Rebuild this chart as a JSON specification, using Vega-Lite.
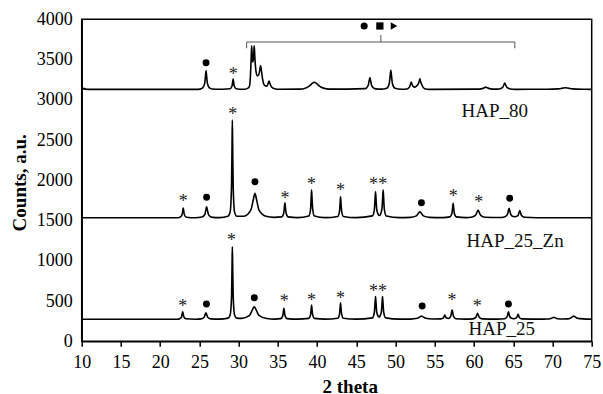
{
"$schema": "https://vega.github.io/schema/vega-lite/v6.json",
"width": 510,
"height": 322,
"autosize": {"type": "none"},
"padding": {"left": 81.7, "top": 19.3, "right": 11.3, "bottom": 52.7},
"background": "white",
"config": {
  "font": "Liberation Serif",
  "view": {"stroke": "#000", "strokeWidth": 1.5},
  "axis": {"domainColor": "#000", "domainWidth": 1.5, "tickColor": "#000", "tickWidth": 1.5, "labelColor": "#000", "titleColor": "#000", "grid": false, "labelFont": "Liberation Serif", "titleFont": "Liberation Serif", "labelFontSize": 18, "titleFontSize": 19, "titleFontWeight": "bold"}
},
"datasets": {
  "lines": [
    {"s":"HAP_80","x":10,"y":3145},{"s":"HAP_80","x":10.5,"y":3133},{"s":"HAP_80","x":11,"y":3130},{"s":"HAP_80","x":24.8,"y":3130},
    {"s":"HAP_80","x":25.37,"y":3144},{"s":"HAP_80","x":25.67,"y":3201},{"s":"HAP_80","x":25.78,"y":3299},{"s":"HAP_80","x":25.85,"y":3360},{"s":"HAP_80","x":25.92,"y":3299},{"s":"HAP_80","x":26.03,"y":3201},{"s":"HAP_80","x":26.33,"y":3144},{"s":"HAP_80","x":27,"y":3131},
    {"s":"HAP_80","x":28.9,"y":3138},{"s":"HAP_80","x":29.15,"y":3169},{"s":"HAP_80","x":29.24,"y":3223},{"s":"HAP_80","x":29.3,"y":3257},{"s":"HAP_80","x":29.36,"y":3223},{"s":"HAP_80","x":29.45,"y":3169},{"s":"HAP_80","x":29.7,"y":3138},{"s":"HAP_80","x":30.5,"y":3131},
    {"s":"HAP_80","x":30.8,"y":3132},{"s":"HAP_80","x":31.2,"y":3145},{"s":"HAP_80","x":31.4,"y":3175},{"s":"HAP_80","x":31.52,"y":3330},{"s":"HAP_80","x":31.6,"y":3520},{"s":"HAP_80","x":31.66,"y":3670},{"s":"HAP_80","x":31.73,"y":3530},{"s":"HAP_80","x":31.8,"y":3470},{"s":"HAP_80","x":31.87,"y":3500},{"s":"HAP_80","x":31.93,"y":3580},{"s":"HAP_80","x":31.99,"y":3670},{"s":"HAP_80","x":32.06,"y":3540},{"s":"HAP_80","x":32.17,"y":3390},{"s":"HAP_80","x":32.35,"y":3300},{"s":"HAP_80","x":32.55,"y":3310},{"s":"HAP_80","x":32.68,"y":3360},{"s":"HAP_80","x":32.8,"y":3425},{"s":"HAP_80","x":32.9,"y":3370},{"s":"HAP_80","x":33.05,"y":3260},{"s":"HAP_80","x":33.3,"y":3180},{"s":"HAP_80","x":33.6,"y":3170},{"s":"HAP_80","x":33.75,"y":3200},{"s":"HAP_80","x":33.88,"y":3234},{"s":"HAP_80","x":34.0,"y":3200},{"s":"HAP_80","x":34.2,"y":3160},{"s":"HAP_80","x":34.6,"y":3138},{"s":"HAP_80","x":35.2,"y":3131},
    {"s":"HAP_80","x":37.8,"y":3132},{"s":"HAP_80","x":38.5,"y":3145},{"s":"HAP_80","x":39.0,"y":3170},{"s":"HAP_80","x":39.35,"y":3200},{"s":"HAP_80","x":39.65,"y":3218},{"s":"HAP_80","x":39.95,"y":3200},{"s":"HAP_80","x":40.3,"y":3170},{"s":"HAP_80","x":40.8,"y":3145},{"s":"HAP_80","x":41.6,"y":3132},
    {"s":"HAP_80","x":46.13,"y":3139},{"s":"HAP_80","x":46.5,"y":3176},{"s":"HAP_80","x":46.64,"y":3238},{"s":"HAP_80","x":46.73,"y":3277},{"s":"HAP_80","x":46.82,"y":3238},{"s":"HAP_80","x":46.96,"y":3176},{"s":"HAP_80","x":47.33,"y":3139},{"s":"HAP_80","x":48.2,"y":3132},
    {"s":"HAP_80","x":48.88,"y":3144},{"s":"HAP_80","x":49.2,"y":3203},{"s":"HAP_80","x":49.32,"y":3303},{"s":"HAP_80","x":49.4,"y":3365},{"s":"HAP_80","x":49.48,"y":3303},{"s":"HAP_80","x":49.6,"y":3203},{"s":"HAP_80","x":49.92,"y":3144},{"s":"HAP_80","x":50.8,"y":3131},
    {"s":"HAP_80","x":51.45,"y":3135},{"s":"HAP_80","x":51.77,"y":3158},{"s":"HAP_80","x":51.91,"y":3196},{"s":"HAP_80","x":52.0,"y":3220},{"s":"HAP_80","x":52.09,"y":3196},{"s":"HAP_80","x":52.25,"y":3165},{"s":"HAP_80","x":52.45,"y":3158},{"s":"HAP_80","x":52.65,"y":3170},{"s":"HAP_80","x":52.88,"y":3195},{"s":"HAP_80","x":53.01,"y":3228},{"s":"HAP_80","x":53.1,"y":3260},{"s":"HAP_80","x":53.19,"y":3228},{"s":"HAP_80","x":53.33,"y":3190},{"s":"HAP_80","x":53.7,"y":3138},{"s":"HAP_80","x":54.3,"y":3130},
    {"s":"HAP_80","x":60.3,"y":3132},{"s":"HAP_80","x":61.05,"y":3139},{"s":"HAP_80","x":61.32,"y":3151},{"s":"HAP_80","x":61.5,"y":3158},{"s":"HAP_80","x":61.68,"y":3151},{"s":"HAP_80","x":61.95,"y":3139},{"s":"HAP_80","x":62.7,"y":3132},
    {"s":"HAP_80","x":63.2,"y":3135},{"s":"HAP_80","x":63.65,"y":3154},{"s":"HAP_80","x":63.81,"y":3187},{"s":"HAP_80","x":63.92,"y":3208},{"s":"HAP_80","x":64.03,"y":3187},{"s":"HAP_80","x":64.19,"y":3154},{"s":"HAP_80","x":64.64,"y":3135},{"s":"HAP_80","x":65.3,"y":3130},
    {"s":"HAP_80","x":69.3,"y":3131},{"s":"HAP_80","x":70.75,"y":3136},{"s":"HAP_80","x":71.3,"y":3145},{"s":"HAP_80","x":71.65,"y":3150},{"s":"HAP_80","x":72.0,"y":3145},{"s":"HAP_80","x":72.55,"y":3136},{"s":"HAP_80","x":74.0,"y":3131},{"s":"HAP_80","x":75,"y":3130},

    {"s":"Zn","x":10,"y":1535},{"s":"Zn","x":22.3,"y":1535},
    {"s":"Zn","x":22.54,"y":1542},{"s":"Zn","x":22.79,"y":1572},{"s":"Zn","x":22.88,"y":1623},{"s":"Zn","x":22.94,"y":1655},{"s":"Zn","x":23.0,"y":1623},{"s":"Zn","x":23.09,"y":1572},{"s":"Zn","x":23.34,"y":1542},{"s":"Zn","x":24.5,"y":1535},
    {"s":"Zn","x":25.32,"y":1543},{"s":"Zn","x":25.7,"y":1577},{"s":"Zn","x":25.83,"y":1636},{"s":"Zn","x":25.92,"y":1672},{"s":"Zn","x":26.01,"y":1636},{"s":"Zn","x":26.15,"y":1577},{"s":"Zn","x":26.52,"y":1543},{"s":"Zn","x":27.6,"y":1536},
    {"s":"Zn","x":28.64,"y":1554},{"s":"Zn","x":28.92,"y":1608},{"s":"Zn","x":29.09,"y":1911},{"s":"Zn","x":29.16,"y":2427},{"s":"Zn","x":29.2,"y":2749},{"s":"Zn","x":29.24,"y":2427},{"s":"Zn","x":29.31,"y":1911},{"s":"Zn","x":29.48,"y":1608},{"s":"Zn","x":29.76,"y":1554},
    {"s":"Zn","x":30.68,"y":1553},{"s":"Zn","x":31.55,"y":1629},{"s":"Zn","x":31.87,"y":1758},{"s":"Zn","x":32.08,"y":1838},{"s":"Zn","x":32.29,"y":1758},{"s":"Zn","x":32.6,"y":1629},{"s":"Zn","x":33.48,"y":1553},{"s":"Zn","x":34.5,"y":1540},
    {"s":"Zn","x":35.5,"y":1546},{"s":"Zn","x":35.75,"y":1593},{"s":"Zn","x":35.84,"y":1672},{"s":"Zn","x":35.9,"y":1722},{"s":"Zn","x":35.96,"y":1672},{"s":"Zn","x":36.05,"y":1593},{"s":"Zn","x":36.3,"y":1546},{"s":"Zn","x":37.5,"y":1536},
    {"s":"Zn","x":38.94,"y":1556},{"s":"Zn","x":39.17,"y":1642},{"s":"Zn","x":39.25,"y":1789},{"s":"Zn","x":39.3,"y":1880},{"s":"Zn","x":39.35,"y":1789},{"s":"Zn","x":39.44,"y":1642},{"s":"Zn","x":39.66,"y":1556},{"s":"Zn","x":41.0,"y":1536},
    {"s":"Zn","x":42.63,"y":1551},{"s":"Zn","x":42.86,"y":1616},{"s":"Zn","x":42.94,"y":1727},{"s":"Zn","x":42.99,"y":1796},{"s":"Zn","x":43.04,"y":1727},{"s":"Zn","x":43.13,"y":1616},{"s":"Zn","x":43.35,"y":1551},{"s":"Zn","x":45.0,"y":1536},
    {"s":"Zn","x":47.05,"y":1558},{"s":"Zn","x":47.3,"y":1637},{"s":"Zn","x":47.39,"y":1772},{"s":"Zn","x":47.45,"y":1858},{"s":"Zn","x":47.51,"y":1772},{"s":"Zn","x":47.6,"y":1640},{"s":"Zn","x":47.8,"y":1575},{"s":"Zn","x":47.93,"y":1563},{"s":"Zn","x":48.07,"y":1575},{"s":"Zn","x":48.27,"y":1647},{"s":"Zn","x":48.36,"y":1789},{"s":"Zn","x":48.42,"y":1880},{"s":"Zn","x":48.48,"y":1789},{"s":"Zn","x":48.57,"y":1642},{"s":"Zn","x":48.82,"y":1556},{"s":"Zn","x":50.5,"y":1536},
    {"s":"Zn","x":51.9,"y":1540},{"s":"Zn","x":52.65,"y":1558},{"s":"Zn","x":52.92,"y":1590},{"s":"Zn","x":53.1,"y":1610},{"s":"Zn","x":53.28,"y":1590},{"s":"Zn","x":53.55,"y":1558},{"s":"Zn","x":54.3,"y":1540},{"s":"Zn","x":56.0,"y":1536},
    {"s":"Zn","x":56.94,"y":1546},{"s":"Zn","x":57.19,"y":1590},{"s":"Zn","x":57.28,"y":1667},{"s":"Zn","x":57.34,"y":1714},{"s":"Zn","x":57.4,"y":1667},{"s":"Zn","x":57.49,"y":1590},{"s":"Zn","x":57.74,"y":1546},{"s":"Zn","x":59.0,"y":1536},
    {"s":"Zn","x":59.64,"y":1541},{"s":"Zn","x":60.19,"y":1565},{"s":"Zn","x":60.39,"y":1606},{"s":"Zn","x":60.52,"y":1631},{"s":"Zn","x":60.65,"y":1606},{"s":"Zn","x":60.85,"y":1565},{"s":"Zn","x":61.4,"y":1541},{"s":"Zn","x":63.2,"y":1537},
    {"s":"Zn","x":63.87,"y":1544},{"s":"Zn","x":64.25,"y":1573},{"s":"Zn","x":64.38,"y":1621},{"s":"Zn","x":64.47,"y":1652},{"s":"Zn","x":64.56,"y":1621},{"s":"Zn","x":64.7,"y":1573},{"s":"Zn","x":64.9,"y":1553},{"s":"Zn","x":65.15,"y":1548},{"s":"Zn","x":65.6,"y":1562},{"s":"Zn","x":65.74,"y":1600},{"s":"Zn","x":65.83,"y":1623},{"s":"Zn","x":65.92,"y":1600},{"s":"Zn","x":66.06,"y":1562},{"s":"Zn","x":66.43,"y":1541},{"s":"Zn","x":68,"y":1535},{"s":"Zn","x":75,"y":1535},

    {"s":"HAP_25","x":10,"y":274},{"s":"HAP_25","x":22.2,"y":274},
    {"s":"HAP_25","x":22.47,"y":280},{"s":"HAP_25","x":22.72,"y":303},{"s":"HAP_25","x":22.81,"y":343},{"s":"HAP_25","x":22.87,"y":368},{"s":"HAP_25","x":22.93,"y":343},{"s":"HAP_25","x":23.02,"y":303},{"s":"HAP_25","x":23.27,"y":280},{"s":"HAP_25","x":24.5,"y":274},
    {"s":"HAP_25","x":25.23,"y":279},{"s":"HAP_25","x":25.61,"y":299},{"s":"HAP_25","x":25.74,"y":334},{"s":"HAP_25","x":25.83,"y":355},{"s":"HAP_25","x":25.92,"y":334},{"s":"HAP_25","x":26.06,"y":299},{"s":"HAP_25","x":26.43,"y":279},{"s":"HAP_25","x":27.6,"y":275},
    {"s":"HAP_25","x":28.64,"y":288},{"s":"HAP_25","x":28.92,"y":328},{"s":"HAP_25","x":29.1,"y":553},{"s":"HAP_25","x":29.16,"y":936},{"s":"HAP_25","x":29.2,"y":1175},{"s":"HAP_25","x":29.24,"y":936},{"s":"HAP_25","x":29.31,"y":553},{"s":"HAP_25","x":29.48,"y":328},{"s":"HAP_25","x":29.76,"y":288},
    {"s":"HAP_25","x":30.39,"y":285},{"s":"HAP_25","x":31.39,"y":322},{"s":"HAP_25","x":31.75,"y":389},{"s":"HAP_25","x":31.99,"y":430},{"s":"HAP_25","x":32.23,"y":389},{"s":"HAP_25","x":32.59,"y":322},{"s":"HAP_25","x":33.59,"y":283},{"s":"HAP_25","x":34.6,"y":276},
    {"s":"HAP_25","x":35.37,"y":282},{"s":"HAP_25","x":35.62,"y":316},{"s":"HAP_25","x":35.71,"y":374},{"s":"HAP_25","x":35.77,"y":410},{"s":"HAP_25","x":35.83,"y":374},{"s":"HAP_25","x":35.92,"y":316},{"s":"HAP_25","x":36.17,"y":282},{"s":"HAP_25","x":37.5,"y":275},
    {"s":"HAP_25","x":38.94,"y":285},{"s":"HAP_25","x":39.17,"y":329},{"s":"HAP_25","x":39.25,"y":404},{"s":"HAP_25","x":39.3,"y":451},{"s":"HAP_25","x":39.35,"y":404},{"s":"HAP_25","x":39.44,"y":329},{"s":"HAP_25","x":39.66,"y":285},{"s":"HAP_25","x":41.0,"y":275},
    {"s":"HAP_25","x":42.63,"y":286},{"s":"HAP_25","x":42.86,"y":338},{"s":"HAP_25","x":42.94,"y":425},{"s":"HAP_25","x":42.99,"y":479},{"s":"HAP_25","x":43.04,"y":425},{"s":"HAP_25","x":43.13,"y":338},{"s":"HAP_25","x":43.35,"y":286},{"s":"HAP_25","x":45.0,"y":275},
    {"s":"HAP_25","x":47.05,"y":291},{"s":"HAP_25","x":47.3,"y":361},{"s":"HAP_25","x":47.39,"y":481},{"s":"HAP_25","x":47.45,"y":555},{"s":"HAP_25","x":47.51,"y":481},{"s":"HAP_25","x":47.6,"y":361},{"s":"HAP_25","x":47.75,"y":318},{"s":"HAP_25","x":47.9,"y":300},{"s":"HAP_25","x":48.04,"y":318},{"s":"HAP_25","x":48.19,"y":361},{"s":"HAP_25","x":48.28,"y":481},{"s":"HAP_25","x":48.34,"y":555},{"s":"HAP_25","x":48.4,"y":481},{"s":"HAP_25","x":48.49,"y":361},{"s":"HAP_25","x":48.74,"y":291},{"s":"HAP_25","x":50.5,"y":275},
    {"s":"HAP_25","x":51.9,"y":276},{"s":"HAP_25","x":52.78,"y":286},{"s":"HAP_25","x":53.1,"y":303},{"s":"HAP_25","x":53.31,"y":314},{"s":"HAP_25","x":53.52,"y":303},{"s":"HAP_25","x":53.84,"y":286},{"s":"HAP_25","x":54.7,"y":277},
    {"s":"HAP_25","x":55.8,"y":278},{"s":"HAP_25","x":56.1,"y":290},{"s":"HAP_25","x":56.21,"y":312},{"s":"HAP_25","x":56.28,"y":326},{"s":"HAP_25","x":56.35,"y":312},{"s":"HAP_25","x":56.46,"y":292},{"s":"HAP_25","x":56.75,"y":284},{"s":"HAP_25","x":57.03,"y":310},{"s":"HAP_25","x":57.14,"y":359},{"s":"HAP_25","x":57.21,"y":389},{"s":"HAP_25","x":57.28,"y":359},{"s":"HAP_25","x":57.39,"y":310},{"s":"HAP_25","x":57.69,"y":281},{"s":"HAP_25","x":58.8,"y":275},
    {"s":"HAP_25","x":59.85,"y":279},{"s":"HAP_25","x":60.23,"y":297},{"s":"HAP_25","x":60.36,"y":328},{"s":"HAP_25","x":60.45,"y":348},{"s":"HAP_25","x":60.54,"y":328},{"s":"HAP_25","x":60.68,"y":297},{"s":"HAP_25","x":61.05,"y":279},{"s":"HAP_25","x":63.0,"y":275},
    {"s":"HAP_25","x":63.91,"y":280},{"s":"HAP_25","x":64.21,"y":303},{"s":"HAP_25","x":64.32,"y":343},{"s":"HAP_25","x":64.39,"y":368},{"s":"HAP_25","x":64.46,"y":343},{"s":"HAP_25","x":64.57,"y":305},{"s":"HAP_25","x":64.8,"y":285},{"s":"HAP_25","x":65.0,"y":281},{"s":"HAP_25","x":65.2,"y":283},{"s":"HAP_25","x":65.44,"y":296},{"s":"HAP_25","x":65.55,"y":319},{"s":"HAP_25","x":65.62,"y":335},{"s":"HAP_25","x":65.69,"y":319},{"s":"HAP_25","x":65.8,"y":293},{"s":"HAP_25","x":66.1,"y":278},{"s":"HAP_25","x":68.5,"y":275},
    {"s":"HAP_25","x":69.0,"y":276},{"s":"HAP_25","x":69.72,"y":281},{"s":"HAP_25","x":70.0,"y":292},{"s":"HAP_25","x":70.17,"y":298},{"s":"HAP_25","x":70.34,"y":292},{"s":"HAP_25","x":70.62,"y":281},{"s":"HAP_25","x":71.4,"y":277},
    {"s":"HAP_25","x":71.9,"y":278},{"s":"HAP_25","x":72.26,"y":286},{"s":"HAP_25","x":72.53,"y":303},{"s":"HAP_25","x":72.71,"y":314},{"s":"HAP_25","x":72.89,"y":303},{"s":"HAP_25","x":73.16,"y":286},{"s":"HAP_25","x":73.9,"y":278},{"s":"HAP_25","x":75,"y":275}
  ],
  "stars": [
    {"x":29.3,"y":3361},
    {"x":22.94,"y":1776},{"x":29.25,"y":2865},{"x":35.9,"y":1817},{"x":39.3,"y":1991},{"x":42.99,"y":1920},{"x":47.2,"y":1991},{"x":48.38,"y":1991},{"x":57.34,"y":1846},{"x":60.6,"y":1764},
    {"x":22.87,"y":479},{"x":29.1,"y":1292},{"x":35.8,"y":534},{"x":39.3,"y":554},{"x":42.99,"y":575},{"x":47.2,"y":658},{"x":48.34,"y":658},{"x":57.21,"y":547},{"x":60.4,"y":472}
  ],
  "dots": [
    {"x":25.85,"y":3461},
    {"x":25.92,"y":1789},{"x":32.08,"y":1983},{"x":53.3,"y":1722},{"x":64.55,"y":1776},
    {"x":25.9,"y":463},{"x":32.0,"y":542},{"x":53.39,"y":438},{"x":64.39,"y":463}
  ],
  "symbols": [
    {"x":46.0,"y":3917,"shape":"circle"},{"x":48.0,"y":3917,"shape":"square"},{"x":49.8,"y":3917,"shape":"triangle-right"}
  ],
  "bracket": [
    {"g":"a","o":1,"x":31.02,"y":3640},{"g":"a","o":2,"x":31.02,"y":3718},{"g":"a","o":3,"x":65.2,"y":3718},{"g":"a","o":4,"x":65.2,"y":3640},
    {"g":"b","o":1,"x":48.13,"y":3718},{"g":"b","o":2,"x":48.13,"y":3805}
  ],
  "labels": [
    {"x":62.65,"y":2855,"t":"HAP_80"},{"x":65.24,"y":1240,"t":"HAP_25_Zn"},{"x":63.54,"y":152,"t":"HAP_25"}
  ]
},
"encoding": {
  "x": {"field": "x", "type": "quantitative", "scale": {"domain": [10, 75], "nice": false, "zero": false},
        "axis": {"title": "2 theta", "values": [10,15,20,25,30,35,40,45,50,55,60,65,70,75], "format": "d", "tickSize": 5, "labelPadding": 7, "labelFlush": false, "titleX": 268, "titleY": 51, "titleBaseline": "alphabetic", "titleAlign": "center"}},
  "y": {"field": "y", "type": "quantitative", "scale": {"domain": [0, 4000], "nice": false},
        "axis": {"title": "Counts, a.u.", "values": [0,500,1000,1500,2000,2500,3000,3500,4000], "format": "d", "ticks": false, "tickSize": 0, "labelPadding": 9.5, "labelFlush": false, "titleX": -56.5, "titleY": 163, "titleBaseline": "alphabetic", "titleAlign": "center"}}
},
"layer": [
  {"data": {"name": "lines"}, "mark": {"type": "line", "color": "#000", "strokeWidth": 1.6, "interpolate": "monotone"},
   "encoding": {"detail": {"field": "s"}}},
  {"data": {"name": "bracket"}, "mark": {"type": "line", "color": "#555", "strokeWidth": 1},
   "encoding": {"detail": {"field": "g"}, "order": {"field": "o", "type": "quantitative"}}},
  {"data": {"name": "stars"}, "mark": {"type": "text", "text": "*", "font": "Liberation Serif", "fontSize": 18, "fill": "#222", "baseline": "alphabetic", "dy": 9}},
  {"data": {"name": "dots"}, "mark": {"type": "point", "filled": true, "color": "#000", "size": 48, "opacity": 1}},
  {"data": {"name": "symbols"}, "mark": {"type": "point", "filled": true, "color": "#000", "size": 55, "opacity": 1},
   "encoding": {"shape": {"field": "shape", "type": "nominal", "scale": {"domain": ["circle","square","triangle-right"], "range": ["circle","square","triangle-right"]}, "legend": null},
                "size": {"field": "shape", "type": "nominal", "scale": {"domain": ["circle","square","triangle-right"], "range": [50, 55, 80]}, "legend": null}}},
  {"data": {"name": "labels"}, "mark": {"type": "text", "font": "Liberation Serif", "fontSize": 19, "color": "#111", "baseline": "middle", "align": "center"},
   "encoding": {"text": {"field": "t"}}}
]
}
